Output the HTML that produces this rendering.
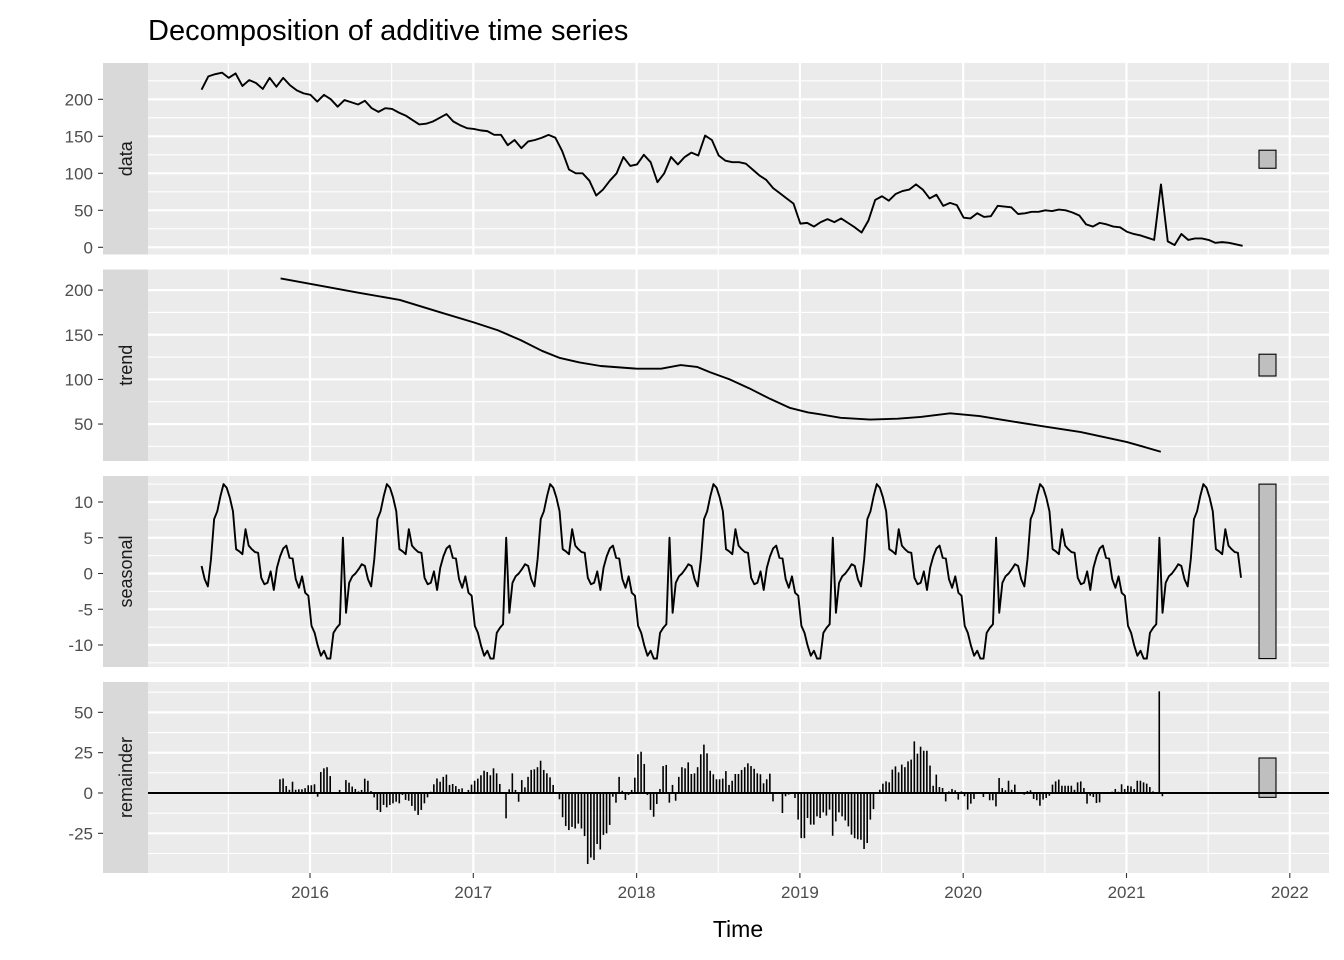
<!DOCTYPE html>
<html><head><meta charset="utf-8"><style>
html,body{margin:0;padding:0;background:#fff;}
svg{display:block;font-family:"Liberation Sans",Arial,sans-serif;}
</style></head><body>
<svg id="chart" width="1344" height="960" viewBox="0 0 1344 960">
<text x="148" y="40" font-size="29" fill="#000">Decomposition of additive time series</text>
<text x="738" y="937" font-size="23" fill="#000" text-anchor="middle">Time</text>
</svg>
<script>
// ---- data ----
const dataStart = 2015.336;
const dataStep = 1/24;
const dataValues = [213,231,234,236,229,235,218,226,222,214,229,217,229,219,212,208,206,197,206,200,
190,199,196,193,198,188,183,188,187,182,178,172,166,167,170,175,180,170,165,161,
160,158,157,152,152,138,145,134,143,145,148,152,148,130,105,100,100,90,70,78,
90,100,122,110,112,125,115,88,100,122,112,122,128,124,151,145,
124,117,115,115,113,105,97,91,80,73,66,59,32,33,28,34,38,34,39,33,
27,20,36,64,69,63,72,76,78,85,78,66,71,56,60,57,40,39,46,41,
42,56,55,54,45,46,48,48,50,49,51,50,47,43,31,28,33,31,28,27,
21,18,16,13,10,85,8,3,18,10,12,12,10,6,7,6,4,2];
const trendYears = [2015.82,2016.0,2016.3,2016.55,2016.8,2017.0,2017.15,2017.29,2017.42,2017.53,2017.65,2017.78,2018.0,2018.15,2018.27,2018.37,2018.45,2018.57,2018.69,2018.82,2018.94,2019.05,2019.12,2019.25,2019.43,2019.6,2019.74,2019.92,2020.1,2020.23,2020.47,2020.72,2021.0,2021.21];
const trendValues = [213,207,197,189,175,164,155,144,132,124,119,115,112,112,116,114,108,100,90,78,68,63,61,57,55,56,58,62,59,55,48,41,30,19];
const seasonalPattern = [1.05,-0.8,-1.8,2.0,7.6,8.7,10.8,12.5,12.0,10.6,8.7,3.4,3.1,2.7,6.2,3.9,3.4,3.0,2.9,-0.6,
-1.5,-1.3,0.3,-2.3,0.8,2.4,3.5,3.9,2.2,2.1,-0.8,-2.0,-0.4,-2.7,-3.1,-7.3,-8.3,-10.1,-11.5,-10.8,
-11.9,-11.9,-8.3,-7.6,-7.1,5.0,-5.5,-1.3,-0.4,0.0,0.6,1.3];
const seasonalStart = 2015.336;
const seasonalWeeks = 332;
const remStart = 2015.816;
const remValues = [8.5,9,4.3,2,7,2,2.3,2.3,3,4.8,4.8,5.4,-2.3,13,15.3,16,10.5,0.4,0.4,1.9,
0.4,8,6.4,4,2.5,1,1.9,8.9,7.6,1.2,-2.7,-10.5,-11.8,-7.4,-8.9,-7.4,-6.4,-5.4,-6.4,-1.2,
-4.3,-4.8,-8,-11,-13.6,-10.5,-6.4,-2.7,0.8,5.4,9,7,10,11.4,5,5.6,4.3,2.5,2.9,0.4,
1.9,5.2,7.6,8.9,11,13.8,13,11,15.3,12.2,5.6,-0.2,-15.7,2.3,12.2,1.9,-5.4,8,3.5,10,
14.3,14.7,16,20,14.3,12.2,9.7,5,-0.2,-3.9,-15,-20.5,-23,-21,-22,-19,-22,-26.7,-44,-40,
-41.5,-31.6,-35,-26,-25,-19.8,-2.3,-6,10,1.4,-4.3,-1.2,1.9,9.5,24,25.6,18,-1.2,-10.5,-14.7,
-6.8,2.5,16.7,17.4,-6,5,-4.8,10,16,15.3,19,11.8,12.2,16,24,30,24.6,13.8,11.6,8.5,
8.5,8.9,13.6,5,7.6,11.8,11.8,14.3,16,18.4,16.7,15,12.2,11.6,6,8.5,
12,-5.2,0.2,0,-12.4,-2,-1,0.4,-3.1,-16.5,-28,-28,-15.5,-19.6,-19.6,-14.5,-15.5,-12,-14,-10.3,
-26.5,-17.6,-12,-14.5,-17,-20.7,-25.8,-28,-28.7,-29,-34.7,-31,-16.5,-10,0,2,5.8,7.2,6.6,14.5,
16.5,12.8,17.6,16,19.6,20.7,32,24.4,28.7,26.2,26.2,17,4.5,11.4,3.7,3.1,-5.2,1,2.5,1.7,
-4.1,1,-2,-10.3,-6.6,-3.7,0,0,-2.5,0.4,-4.5,-4.5,-8.3,9.3,3.1,1.7,7.6,2,5.2,0.6,
0.4,-1,1.2,1.7,-3.7,-4.5,-7.9,-4.1,-3.1,-1.7,5.2,7.2,8.3,4.5,4.5,4.5,4.5,2,6.6,7.2,
3.1,-6.6,-1.7,-2.5,-6.2,-5.8,-0.4,0,0.4,0.8,2.5,0.8,5.4,2.5,4.5,4.1,2.5,7.6,7.6,6.6,
5.8,3.7,1,0.4,63,-2];
const xTickYears = [2016,2017,2018,2019,2020,2021,2022];
const dataTicks = [0,50,100,150,200];
const trendTicks = [50,100,150,200];
const seasonalTicks = [-10,-5,0,5,10];
const remTicks = [-25,0,25,50];

// ---- scales ----
const NS = "http://www.w3.org/2000/svg";
const svg = document.getElementById('chart');
const PX0 = 148, PX1 = 1329;
const xS = yr => 310 + (yr - 2016) * 163.3;
const panels = [
  {key:'data', top:63, bot:254.5, y:v=>247.3-0.74*v, ticks:dataTicks},
  {key:'trend', top:269.5, bot:461, y:v=>468.7-0.893*v, ticks:trendTicks},
  {key:'seasonal', top:476, bot:667, y:v=>573.5-7.15*v, ticks:seasonalTicks},
  {key:'remainder', top:682, bot:873, y:v=>793-1.613*v, ticks:remTicks}
];
function mk(tag, attrs){const e=document.createElementNS(NS,tag);for(const k in attrs)e.setAttribute(k,attrs[k]);svg.appendChild(e);return e;}

const seasonalAll = [];
for(let k=0;k<seasonalWeeks;k++) seasonalAll.push(seasonalPattern[k%52]);
const ranges = {
  data:[Math.min(...dataValues),Math.max(...dataValues)],
  trend:[Math.min(...trendValues),Math.max(...trendValues)],
  seasonal:[Math.min(...seasonalPattern),Math.max(...seasonalPattern)],
  remainder:[Math.min(...remValues),Math.max(...remValues)]
};
const barUnits = ranges.seasonal[1]-ranges.seasonal[0];

panels.forEach(p=>{
  const bg = mk('rect',{x:PX0,y:p.top,width:PX1-PX0,height:p.bot-p.top,fill:'#ebebeb'});
  
  
  const strip = mk('rect',{x:103,y:p.top,width:45,height:p.bot-p.top,fill:'#d9d9d9'});
  
  
  const cy=(p.top+p.bot)/2;
  const st = mk('text',{x:0,y:0,transform:`translate(132,${cy}) rotate(-90)`,'text-anchor':'middle','font-size':'18',fill:'#1a1a1a'});
  st.textContent=p.key;
  
  
  const step=p.ticks[1]-p.ticks[0];
  for(let v=p.ticks[0]-step*2; v<=p.ticks[p.ticks.length-1]+step*2; v+=step/2){
    const yy=p.y(v); if(yy<p.top||yy>p.bot) continue;
    const major = p.ticks.includes(v);
    const g = mk('line',{x1:PX0,x2:PX1,y1:yy,y2:yy,stroke:'#fff','stroke-width':major?2.2:1.1});
    
    
  }
  for(let yr=2015.5; yr<=2022.5; yr+=0.5){
    const xx=xS(yr); if(xx<PX0||xx>PX1) continue;
    const major = Number.isInteger(yr);
    const g = mk('line',{x1:xx,x2:xx,y1:p.top,y2:p.bot,stroke:'#fff','stroke-width':major?2.2:1.1});
    
    
  }
  p.ticks.forEach(v=>{
    const yy=p.y(v);
    const tk = mk('line',{x1:98,x2:103,y1:yy,y2:yy,stroke:'#333','stroke-width':1.1});
    
    
    const tl = mk('text',{x:93,y:yy+6,'text-anchor':'end','font-size':'17',fill:'#4d4d4d'});
    tl.textContent=v;
    
    
  });
  const mid=(ranges[p.key][0]+ranges[p.key][1])/2;
  const y1=p.y(mid+barUnits/2), y2=p.y(mid-barUnits/2);
  const sb = mk('rect',{x:1259,y:y1,width:17,height:y2-y1,fill:'#bfbfbf',stroke:'#000','stroke-width':1.1});
  
  
});

function line(xs, ys, p, name){
  const d = xs.map((x,i)=>(i?'L':'M')+xS(x).toFixed(2)+','+p.y(ys[i]).toFixed(2)).join('');
  const e = mk('path',{d:d,fill:'none',stroke:'#000','stroke-width':1.9,'stroke-linejoin':'round'});
  
  
}
line(dataValues.map((_,i)=>dataStart+i*dataStep), dataValues, panels[0], 'data-line');
line(trendYears, trendValues, panels[1], 'trend-line');
line(seasonalAll.map((_,k)=>seasonalStart+k/52), seasonalAll, panels[2], 'seasonal-line');

const rp = panels[3];
remValues.forEach((v,i)=>{
  const xx = xS(remStart+i/52);
  const b = mk('line',{x1:xx,x2:xx,y1:rp.y(0),y2:rp.y(v),stroke:'#000','stroke-width':1.6});
  
  
});
const zl = mk('line',{x1:PX0,x2:PX1,y1:rp.y(0),y2:rp.y(0),stroke:'#000','stroke-width':1.9});



xTickYears.forEach(yr=>{
  const xx=xS(yr);
  const t = mk('line',{x1:xx,x2:xx,y1:873,y2:878,stroke:'#333','stroke-width':1.1});
  
  
  const l = mk('text',{x:xx,y:898,'text-anchor':'middle','font-size':'17',fill:'#4d4d4d'});
  l.textContent=yr;
  
  
});
</script>
</body></html>
